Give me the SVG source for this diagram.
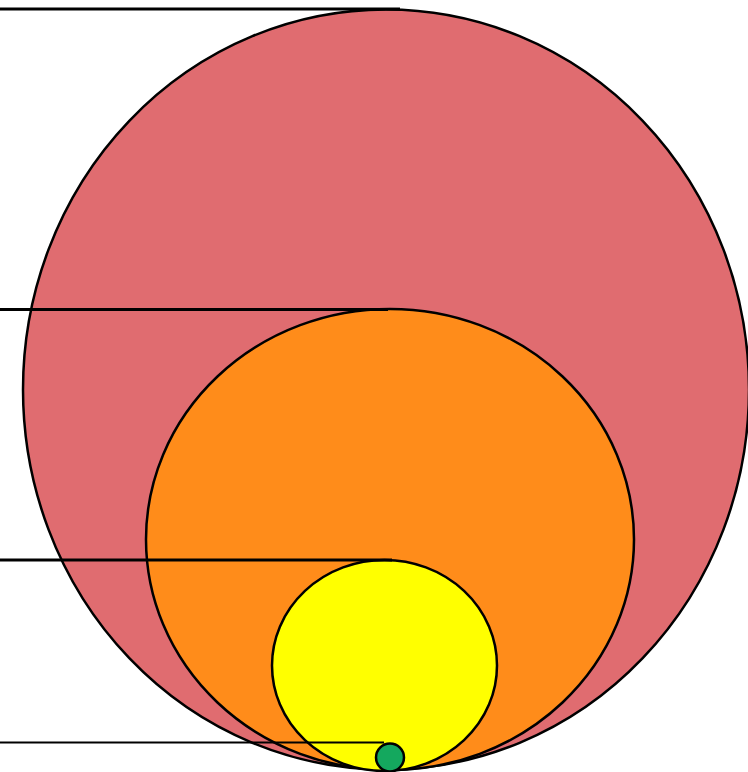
<svg xmlns="http://www.w3.org/2000/svg" width="748" height="772" viewBox="0 0 748 772">
<style>
.shape{stroke:#000;stroke-width:2.5}
.conn{stroke:#000;fill:none}
</style>
<rect width="748" height="772" fill="#fff"/>
<g id="red"><ellipse class="shape" cx="386" cy="389.5" rx="363" ry="380" fill="#E06C70"/></g>
<g id="orange"><ellipse class="shape" cx="390" cy="539.5" rx="244" ry="230.5" fill="#FF8C1A"/></g>
<g id="yellow"><ellipse class="shape" cx="384.5" cy="665.5" rx="112.5" ry="105.5" fill="#FFFF00"/></g>
<g id="green"><circle class="shape" cx="390" cy="757.5" r="14" fill="#14A85E"/></g>
<g id="connectors">
<line class="conn" x1="0" y1="9" x2="400" y2="9" stroke-width="3"/>
<line class="conn" x1="0" y1="309.5" x2="388" y2="309.5" stroke-width="3"/>
<line class="conn" x1="0" y1="560" x2="392" y2="560" stroke-width="3"/>
<line class="conn" x1="0" y1="742.5" x2="384" y2="742.5" stroke-width="2"/>
</g>
</svg>
